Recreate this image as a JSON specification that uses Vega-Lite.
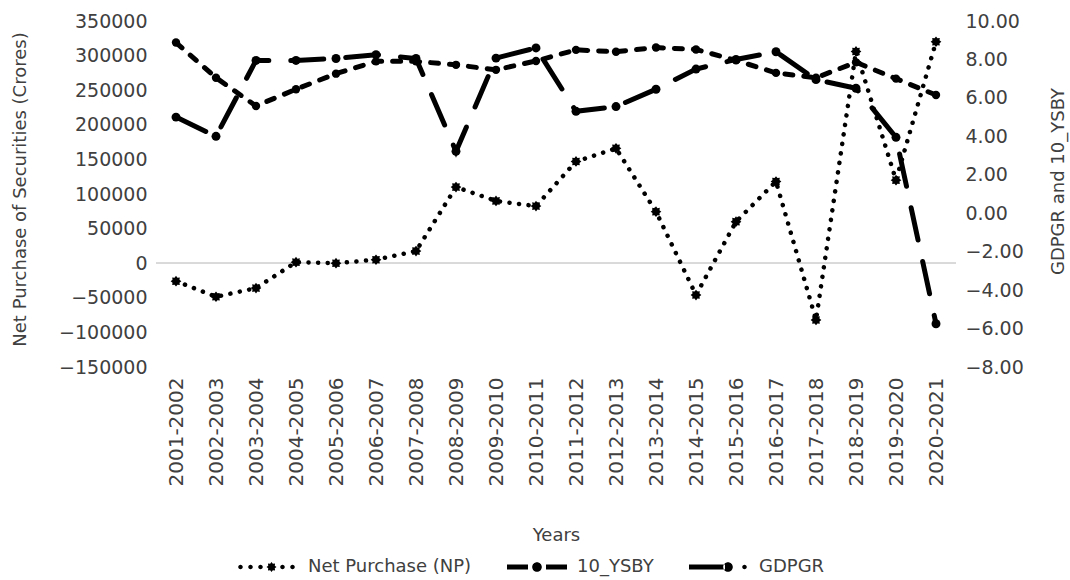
{
  "$schema": "https://vega.github.io/schema/vega-lite/v6.json",
  "width": 800,
  "height": 346,
  "autosize": {"type": "none"},
  "padding": {"left": 156, "top": 21, "right": 114, "bottom": 213},
  "background": "#ffffff",
  "config": {
    "font": "DejaVu Sans",
    "view": {"stroke": null},
    "axis": {
      "labelFont": "DejaVu Sans",
      "titleFont": "DejaVu Sans",
      "labelColor": "#404040",
      "titleColor": "#404040",
      "titleFontWeight": "normal",
      "labelFontSize": 19,
      "titleFontSize": 18,
      "grid": false,
      "domain": false,
      "ticks": false
    }
  },
  "data": {
    "values": [
      {"year": "2001-2002", "NP": -26000, "YSBY": 8.88, "GDPGR": 5.0},
      {"year": "2002-2003", "NP": -48500, "YSBY": 7.05, "GDPGR": 4.0},
      {"year": "2003-2004", "NP": -36000, "YSBY": 5.58, "GDPGR": 7.95},
      {"year": "2004-2005", "NP": 1500, "YSBY": 6.45, "GDPGR": 7.95},
      {"year": "2005-2006", "NP": 0, "YSBY": 7.26, "GDPGR": 8.05},
      {"year": "2006-2007", "NP": 5000, "YSBY": 7.9, "GDPGR": 8.25},
      {"year": "2007-2008", "NP": 17500, "YSBY": 7.9, "GDPGR": 8.05},
      {"year": "2008-2009", "NP": 110000, "YSBY": 7.72, "GDPGR": 3.22},
      {"year": "2009-2010", "NP": 90000, "YSBY": 7.46, "GDPGR": 8.07},
      {"year": "2010-2011", "NP": 82500, "YSBY": 7.92, "GDPGR": 8.6},
      {"year": "2011-2012", "NP": 147000, "YSBY": 8.5, "GDPGR": 5.3},
      {"year": "2012-2013", "NP": 166000, "YSBY": 8.4, "GDPGR": 5.55},
      {"year": "2013-2014", "NP": 74500, "YSBY": 8.62, "GDPGR": 6.45},
      {"year": "2014-2015", "NP": -46000, "YSBY": 8.52, "GDPGR": 7.5},
      {"year": "2015-2016", "NP": 60000, "YSBY": 7.95, "GDPGR": 8.0},
      {"year": "2016-2017", "NP": 118000, "YSBY": 7.3, "GDPGR": 8.4},
      {"year": "2017-2018", "NP": -82000, "YSBY": 7.05, "GDPGR": 6.95},
      {"year": "2018-2019", "NP": 306000, "YSBY": 7.85, "GDPGR": 6.5},
      {"year": "2019-2020", "NP": 120000, "YSBY": 7.0, "GDPGR": 3.95},
      {"year": "2020-2021", "NP": 320000, "YSBY": 6.15, "GDPGR": -5.75}
    ]
  },
  "layer": [
    {
      "layer": [
        {
          "mark": {"type": "rule", "color": "#d9d9d9", "strokeWidth": 1.5},
          "encoding": {
            "y": {"datum": 0, "type": "quantitative",
              "scale": {"domain": [-150000, 350000], "nice": false, "zero": false},
              "axis": {"orient": "left", "title": "Net Purchase of Securities (Crores)", "format": "d",
                "values": [-150000, -100000, -50000, 0, 50000, 100000, 150000, 200000, 250000, 300000, 350000],
                "labelPadding": 9, "titleAngle": 270, "titleBaseline": "middle", "titleX": -136, "titleY": 168}}
          }
        },
        {
          "mark": {"type": "line", "color": "#000000", "strokeWidth": 4.5, "strokeDash": [0.1, 9.5], "strokeCap": "round"},
          "encoding": {
            "x": {"field": "year", "type": "ordinal", "scale": {"type": "point", "padding": 0.5},
              "axis": {"title": "Years", "labelAngle": -90, "labelPadding": 10, "labelFontSize": 20, "titleY": 168, "titleBaseline": "middle"}},
            "y": {"field": "NP", "type": "quantitative",
              "scale": {"domain": [-150000, 350000], "nice": false, "zero": false},
              "axis": {"orient": "left", "title": "Net Purchase of Securities (Crores)", "format": "d",
                "values": [-150000, -100000, -50000, 0, 50000, 100000, 150000, 200000, 250000, 300000, 350000],
                "labelPadding": 9, "titleAngle": 270, "titleBaseline": "middle", "titleX": -136, "titleY": 168}}
          }
        },
        {
          "mark": {"type": "point", "filled": true, "color": "#000000", "opacity": 1, "size": 115,
            "shape": "M0,-1L0.27,-0.65L0.71,-0.71L0.65,-0.27L1,0L0.65,0.27L0.71,0.71L0.27,0.65L0,1L-0.27,0.65L-0.71,0.71L-0.65,0.27L-1,0L-0.65,-0.27L-0.71,-0.71L-0.27,-0.65Z"},
          "encoding": {
            "x": {"field": "year", "type": "ordinal", "scale": {"type": "point", "padding": 0.5},
              "axis": {"title": "Years", "labelAngle": -90, "labelPadding": 10, "labelFontSize": 20, "titleY": 168, "titleBaseline": "middle"}},
            "y": {"field": "NP", "type": "quantitative",
              "scale": {"domain": [-150000, 350000], "nice": false, "zero": false},
              "axis": {"orient": "left", "title": "Net Purchase of Securities (Crores)", "format": "d",
                "values": [-150000, -100000, -50000, 0, 50000, 100000, 150000, 200000, 250000, 300000, 350000],
                "labelPadding": 9, "titleAngle": 270, "titleBaseline": "middle", "titleX": -136, "titleY": 168}}
          }
        }
      ]
    },
    {
      "layer": [
        {
          "mark": {"type": "line", "color": "#000000", "strokeWidth": 5, "strokeDash": [8, 11], "strokeCap": "round"},
          "encoding": {
            "x": {"field": "year", "type": "ordinal", "scale": {"type": "point", "padding": 0.5}},
            "y": {"field": "YSBY", "type": "quantitative",
              "scale": {"domain": [-8, 10], "nice": false, "zero": false},
              "axis": {"orient": "right", "title": "GDPGR and 10_YSBY", "format": ".2f",
                "values": [-8, -6, -4, -2, 0, 2, 4, 6, 8, 10],
                "labelPadding": 9, "titleAngle": 270, "titleBaseline": "middle", "titleX": 102, "titleY": 160}}
          }
        },
        {
          "mark": {"type": "point", "filled": true, "color": "#000000", "opacity": 1, "size": 70, "shape": "circle"},
          "encoding": {
            "x": {"field": "year", "type": "ordinal", "scale": {"type": "point", "padding": 0.5}},
            "y": {"field": "YSBY", "type": "quantitative",
              "scale": {"domain": [-8, 10], "nice": false, "zero": false},
              "axis": {"orient": "right", "title": "GDPGR and 10_YSBY", "format": ".2f",
                "values": [-8, -6, -4, -2, 0, 2, 4, 6, 8, 10],
                "labelPadding": 9, "titleAngle": 270, "titleBaseline": "middle", "titleX": 102, "titleY": 160}}
          }
        },
        {
          "mark": {"type": "line", "color": "#000000", "strokeWidth": 5, "strokeDash": [33, 22], "strokeCap": "round"},
          "encoding": {
            "x": {"field": "year", "type": "ordinal", "scale": {"type": "point", "padding": 0.5}},
            "y": {"field": "GDPGR", "type": "quantitative",
              "scale": {"domain": [-8, 10], "nice": false, "zero": false},
              "axis": {"orient": "right", "title": "GDPGR and 10_YSBY", "format": ".2f",
                "values": [-8, -6, -4, -2, 0, 2, 4, 6, 8, 10],
                "labelPadding": 9, "titleAngle": 270, "titleBaseline": "middle", "titleX": 102, "titleY": 160}}
          }
        },
        {
          "mark": {"type": "point", "filled": true, "color": "#000000", "opacity": 1, "size": 80, "shape": "circle"},
          "encoding": {
            "x": {"field": "year", "type": "ordinal", "scale": {"type": "point", "padding": 0.5}},
            "y": {"field": "GDPGR", "type": "quantitative",
              "scale": {"domain": [-8, 10], "nice": false, "zero": false},
              "axis": {"orient": "right", "title": "GDPGR and 10_YSBY", "format": ".2f",
                "values": [-8, -6, -4, -2, 0, 2, 4, 6, 8, 10],
                "labelPadding": 9, "titleAngle": 270, "titleBaseline": "middle", "titleX": 102, "titleY": 160}}
          }
        }
      ]
    },
    {
      "data": {"values": [{"series": "Net Purchase (NP)"}, {"series": "10_YSBY"}, {"series": "GDPGR"}]},
      "transform": [{"filter": "datum.series == 'none'"}],
      "mark": {"type": "point", "filled": true, "color": "#000000", "opacity": 1},
      "encoding": {
        "shape": {
          "field": "series", "type": "nominal",
          "scale": {
            "domain": ["Net Purchase (NP)", "10_YSBY", "GDPGR"],
            "range": [
              "M-0.992,0a0.075,0.075 0 1,0 0.15,0a0.075,0.075 0 1,0 -0.15,0Z M-0.658,0a0.075,0.075 0 1,0 0.15,0a0.075,0.075 0 1,0 -0.15,0Z M-0.325,0a0.075,0.075 0 1,0 0.15,0a0.075,0.075 0 1,0 -0.15,0Z M0.117,-0.167L0.162,-0.109L0.236,-0.119L0.226,-0.045L0.284,0L0.226,0.045L0.236,0.119L0.162,0.109L0.117,0.167L0.072,0.109L-0.002,0.119L0.008,0.045L-0.05,0L0.008,-0.045L-0.002,-0.119L0.072,-0.109Z M0.408,0a0.075,0.075 0 1,0 0.15,0a0.075,0.075 0 1,0 -0.15,0Z M0.742,0a0.075,0.075 0 1,0 0.15,0a0.075,0.075 0 1,0 -0.15,0Z",
              "M-1,-0.083L-0.3,-0.083L-0.3,0.083L-1,0.083Z M-0.16,0a0.16,0.16 0 1,0 0.32,0a0.16,0.16 0 1,0 -0.32,0Z M0.3,-0.083L1,-0.083L1,0.083L0.3,0.083Z",
              "M-1,-0.083L0.2,-0.083L0.2,0.083L-1,0.083Z M0.14,0a0.16,0.16 0 1,0 0.32,0a0.16,0.16 0 1,0 -0.32,0Z M0.775,0a0.075,0.075 0 1,0 0.15,0a0.075,0.075 0 1,0 -0.15,0Z"
            ]
          },
          "legend": {
            "orient": "none", "legendX": 82, "legendY": 516, "direction": "horizontal", "title": null,
            "symbolSize": 3600, "symbolStrokeWidth": 0, "symbolFillColor": "#000000", "symbolOpacity": 1,
            "labelFontSize": 18, "labelFont": "DejaVu Sans", "labelColor": "#404040", "labelLimit": 400,
            "labelOffset": 10, "columnPadding": 35, "padding": 0
          }
        }
      }
    }
  ],
  "resolve": {"scale": {"y": "independent"}}
}
